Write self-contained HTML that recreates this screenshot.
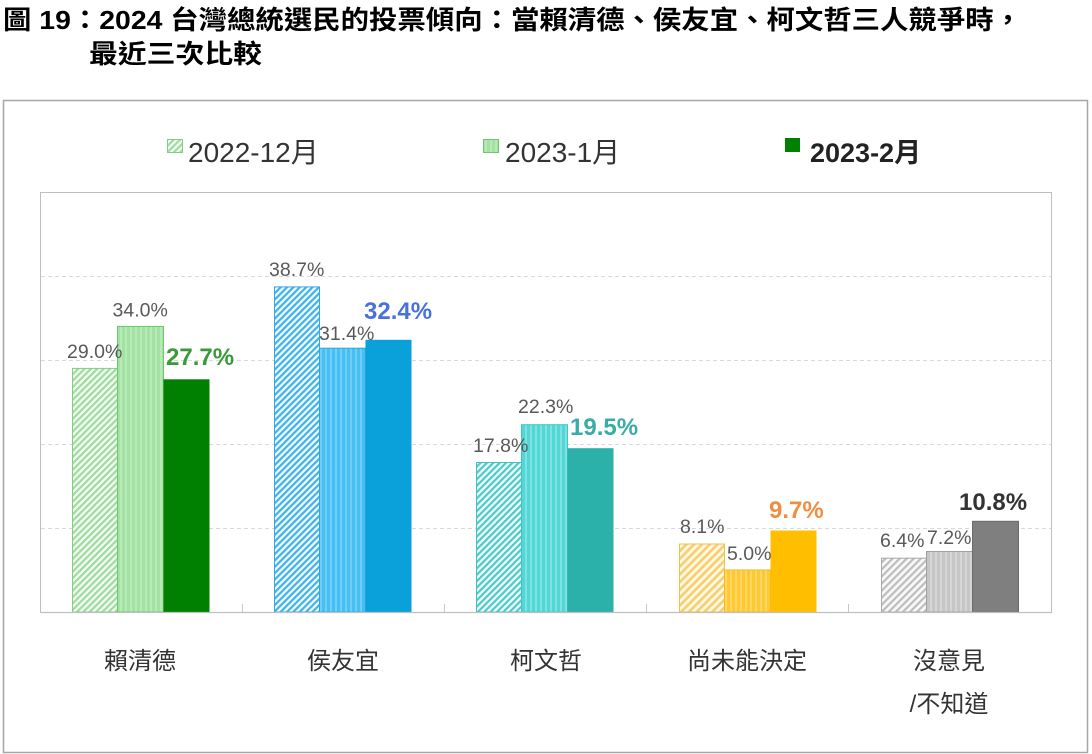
<!DOCTYPE html>
<html><head><meta charset="utf-8">
<style>
html,body{margin:0;padding:0;background:#fff;}
svg{display:block;}
text{font-family:"Liberation Sans","Noto Sans CJK TC",sans-serif;}
</style></head>
<body>
<svg width="1092" height="754" viewBox="0 0 1092 754" xmlns="http://www.w3.org/2000/svg">
<defs>
  <pattern id="hG" patternUnits="userSpaceOnUse" width="4.5" height="4.5" patternTransform="rotate(45)">
    <rect width="4.5" height="4.5" fill="#f4fcf4"/><rect width="2.2" height="4.5" fill="#9edc9e"/></pattern>
  <pattern id="hB" patternUnits="userSpaceOnUse" width="4.5" height="4.5" patternTransform="rotate(45)">
    <rect width="4.5" height="4.5" fill="#f2fbff"/><rect width="2.2" height="4.5" fill="#3fb2ea"/></pattern>
  <pattern id="hT" patternUnits="userSpaceOnUse" width="4.5" height="4.5" patternTransform="rotate(45)">
    <rect width="4.5" height="4.5" fill="#f2fcfc"/><rect width="2.2" height="4.5" fill="#4ccaca"/></pattern>
  <pattern id="hY" patternUnits="userSpaceOnUse" width="5.5" height="5.5" patternTransform="rotate(45)">
    <rect width="5.5" height="5.5" fill="#fff8e4"/><rect width="2.6" height="5.5" fill="#f6cf6c"/></pattern>
  <pattern id="hK" patternUnits="userSpaceOnUse" width="5" height="5" patternTransform="rotate(45)">
    <rect width="5" height="5" fill="#f8f8f8"/><rect width="2.2" height="5" fill="#bdbdbd"/></pattern>
  <pattern id="vG" patternUnits="userSpaceOnUse" width="5" height="5">
    <rect width="5" height="5" fill="#a2e2a2"/><rect width="2" height="5" fill="#b8eab8"/></pattern>
  <pattern id="vB" patternUnits="userSpaceOnUse" width="5" height="5">
    <rect width="5" height="5" fill="#46c0f2"/><rect width="2" height="5" fill="#6fcff6"/></pattern>
  <pattern id="vT" patternUnits="userSpaceOnUse" width="5" height="5">
    <rect width="5" height="5" fill="#52d6d6"/><rect width="2" height="5" fill="#7fe2e2"/></pattern>
  <pattern id="vY" patternUnits="userSpaceOnUse" width="5" height="5">
    <rect width="5" height="5" fill="#ffc933"/><rect width="2" height="5" fill="#ffd766"/></pattern>
  <pattern id="vK" patternUnits="userSpaceOnUse" width="5" height="5">
    <rect width="5" height="5" fill="#c6c6c6"/><rect width="2" height="5" fill="#d6d6d6"/></pattern>
</defs>

<!-- Title -->
<text x="3" y="29" font-size="26" font-weight="bold" fill="#000" textLength="1019" lengthAdjust="spacingAndGlyphs">圖 19：2024 台灣總統選民的投票傾向：當賴清德、侯友宜、柯文哲三人競爭時，</text>
<text x="89" y="63" font-size="26" font-weight="bold" fill="#000" textLength="173" lengthAdjust="spacingAndGlyphs">最近三次比較</text>

<!-- Outer box -->
<rect x="3.5" y="100.5" width="1084" height="652" fill="#fff" stroke="#a6a6a6" stroke-width="1.5"/>

<!-- Legend -->
<rect x="167.5" y="139.5" width="15" height="13" fill="url(#hG)" stroke="#7fcf7f" stroke-width="1"/>
<text x="188" y="162" font-size="28" fill="#333">2022-12月</text>
<rect x="483.5" y="139.5" width="15" height="13" fill="url(#vG)" stroke="#6cc86c" stroke-width="1"/>
<text x="505" y="162" font-size="28" fill="#333">2023-1月</text>
<rect x="785" y="138" width="15" height="14" fill="#008000"/>
<text x="810" y="162" font-size="27" font-weight="bold" fill="#222">2023-2月</text>

<!-- Plot area -->
<rect x="40.5" y="192.5" width="1011" height="420" fill="#fff" stroke="#bfbfbf" stroke-width="1"/>
<g stroke="#d9d9d9" stroke-width="1" stroke-dasharray="4,3">
  <line x1="41" y1="276.5" x2="1051" y2="276.5"/>
  <line x1="41" y1="360.5" x2="1051" y2="360.5"/>
  <line x1="41" y1="444.5" x2="1051" y2="444.5"/>
  <line x1="41" y1="528.5" x2="1051" y2="528.5"/>
</g>

<!-- Bars: baseline 612, 8.4px per % -->
<!-- 賴清德 -->
<rect x="72.5" y="368.4" width="45" height="243.6" fill="url(#hG)" stroke="#7fcf7f" stroke-width="1"/>
<rect x="117.5" y="326.4" width="46" height="285.6" fill="url(#vG)" stroke="#6cc86c" stroke-width="1"/>
<rect x="163.5" y="379.3" width="46" height="232.7" fill="#008000"/>
<!-- 侯友宜 -->
<rect x="274.5" y="286.9" width="45" height="325.1" fill="url(#hB)" stroke="#3aa8e0" stroke-width="1"/>
<rect x="319.5" y="348.2" width="46" height="263.8" fill="url(#vB)" stroke="#2fa6de" stroke-width="1"/>
<rect x="365.5" y="339.8" width="46" height="272.2" fill="#0aa0da"/>
<!-- 柯文哲 -->
<rect x="476.5" y="462.5" width="45" height="149.5" fill="url(#hT)" stroke="#40c2c2" stroke-width="1"/>
<rect x="521.5" y="424.7" width="46" height="187.3" fill="url(#vT)" stroke="#3cc6c6" stroke-width="1"/>
<rect x="567.5" y="448.2" width="46" height="163.8" fill="#2bb0aa"/>
<!-- 尚未能決定 -->
<rect x="679.5" y="544" width="45" height="68" fill="url(#hY)" stroke="#f2c050" stroke-width="1"/>
<rect x="724.5" y="570" width="46" height="42" fill="url(#vY)" stroke="#f5b820" stroke-width="1"/>
<rect x="770.5" y="530.5" width="46" height="81.5" fill="#ffbf00"/>
<!-- 沒意見 -->
<rect x="881.5" y="558.2" width="45" height="53.8" fill="url(#hK)" stroke="#a8a8a8" stroke-width="1"/>
<rect x="926.5" y="551.5" width="46" height="60.5" fill="url(#vK)" stroke="#a0a0a0" stroke-width="1"/>
<rect x="972.5" y="521.3" width="46" height="90.7" fill="#7f7f7f" stroke="#6a6a6a" stroke-width="1"/>

<!-- baseline + ticks -->
<line x1="41" y1="612.5" x2="1051" y2="612.5" stroke="#bfbfbf" stroke-width="1.2"/>
<g stroke="#c8c8c8" stroke-width="1">
  <line x1="242.5" y1="604" x2="242.5" y2="612"/>
  <line x1="444.5" y1="604" x2="444.5" y2="612"/>
  <line x1="646.5" y1="604" x2="646.5" y2="612"/>
  <line x1="848.5" y1="604" x2="848.5" y2="612"/>
</g>

<!-- Value labels -->
<g font-size="19.5" fill="#595959">
  <text x="67" y="358">29.0%</text>
  <text x="112.5" y="316.5">34.0%</text>
  <text x="269" y="276">38.7%</text>
  <text x="319" y="340">31.4%</text>
  <text x="473" y="452">17.8%</text>
  <text x="518" y="413">22.3%</text>
  <text x="680" y="533">8.1%</text>
  <text x="727" y="560">5.0%</text>
  <text x="880" y="547">6.4%</text>
  <text x="927" y="544">7.2%</text>
</g>
<g font-size="24" font-weight="bold">
  <text x="166" y="365" fill="#3a9a3a">27.7%</text>
  <text x="364" y="319" fill="#4a70dc">32.4%</text>
  <text x="570" y="435" fill="#3aaca8">19.5%</text>
  <text x="769" y="518" fill="#f28c40">9.7%</text>
  <text x="959" y="510" fill="#333">10.8%</text>
</g>

<!-- Category labels -->
<g font-size="24" fill="#333" text-anchor="middle">
  <text x="140" y="669">賴清德</text>
  <text x="343" y="669">侯友宜</text>
  <text x="546" y="669">柯文哲</text>
  <text x="747" y="669">尚未能決定</text>
  <text x="949" y="669">沒意見</text>
  <text x="949" y="712">/不知道</text>
</g>
</svg>
</body></html>
